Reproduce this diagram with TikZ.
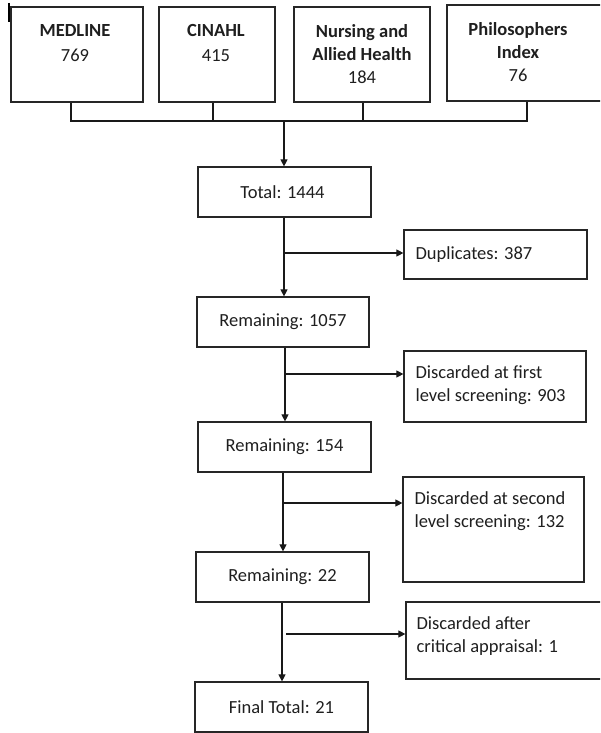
\documentclass[tikz,border=0pt]{standalone}
\usepackage{fontspec}
\setmainfont{Carlito}
\usetikzlibrary{fit,arrows.meta}
\begin{document}
\begin{tikzpicture}[x=1pt,y=-1pt,
  box/.style={draw=black!85, line width=1.2pt, inner sep=0pt, rectangle},
  lbl/.style={inner sep=0pt, font=\fontsize{18.5}{23}\selectfont, text=black!88},
  toplbl/.style={lbl, align=center, anchor=north, font=\fontsize{18.5}{24}\selectfont\bfseries},
  leftlbl/.style={lbl, align=left, anchor=north west},
  conn/.style={line width=1.1pt, draw=black!90},
  arr/.style={conn, -{Triangle[length=7pt,width=7pt]}}]
\useasboundingbox (0,0) rectangle (600,733);
\clip (0,0) rectangle (600,733);
\fill[white] (0,0) rectangle (600,733);
% small mark at top left
\draw[line width=2pt] (9,3) -- (9,22);
% source boxes
\node[box, fit={(11,7) (143,102)}] (medline) {};
\node[box, fit={(159,7) (275,102)}] (cinahl) {};
\node[box, fit={(294,7) (430,102)}] (nursing) {};
\node[box, fit={(447,5) (612,101)}] (philo) {};
\node[toplbl] (medlinet) at (75,24) {MEDLINE\\[1pt]\mdseries 769};
\node[toplbl] (cinahlt) at (216,24) {CINAHL\\[1pt]\mdseries 415};
\node[toplbl, font=\fontsize{18.5}{23}\selectfont\bfseries] (nursingt) at (362,24) {Nursing and\\Allied Health\\\mdseries 184};
\node[toplbl, font=\fontsize{18.5}{23}\selectfont\bfseries] (philot) at (518,22) {Philosophers\\Index\\\mdseries 76};
% bus
\coordinate (busL) at (71,121);
\coordinate (busC) at (213,121);
\coordinate (busN) at (363,121);
\coordinate (busR) at (527,121);
\coordinate (busM) at (284,121);
\draw[conn] (medline.south -| busL) -- (busL) -- (busR) -- (philo.south -| busR);
\draw[conn] (cinahl.south -| busC) -- (busC);
\draw[conn] (nursing.south -| busN) -- (busN);
% main column
\node[box, fit={(198,167) (371,217)}] (total) {};
\node[box, fit={(197,297) (369,347)}] (r1057) {};
\node[box, fit={(198,422) (371,472)}] (r154) {};
\node[box, fit={(196,552) (369,602)}] (r22) {};
\node[box, fit={(195,682) (368,732)}] (final) {};
\node[lbl] (totalt) at ([xshift=-2pt]total.center) {Total: 1444};
\node[lbl] (r1057t) at (r1057.center) {Remaining: 1057};
\node[lbl] (r154t) at (r154.center) {Remaining: 154};
\node[lbl] (r22t) at (r22.center) {Remaining: 22};
\node[lbl] (finalt) at (final.center) {Final Total: 21};
% side boxes
\node[box, fit={(404,230) (587,279)}] (dup) {};
\node[box, fit={(404,351) (586,422)}] (disc1) {};
\node[box, fit={(403,477) (584,582)}] (disc2) {};
\node[box, fit={(406,602) (612,679)}] (disc3) {};
\node[lbl, anchor=west] (dupt) at ([xshift=12pt]dup.west) {Duplicates: 387};
\node[leftlbl] (disc1t) at ([xshift=12pt,yshift=-15pt]disc1.north west) {Discarded at first\\level screening: 903};
\node[leftlbl] (disc2t) at ([xshift=12pt,yshift=-15pt]disc2.north west) {Discarded at second\\level screening: 132};
\node[leftlbl] (disc3t) at ([xshift=11pt,yshift=-15pt]disc3.north west) {Discarded after\\critical appraisal: 1};
% arrows
\draw[arr] (busM) -- (busM |- total.north);
\coordinate (b1) at (284,253);
\draw[arr] (b1 |- total.south) -- (b1 |- r1057.north);
\draw[arr] (b1) -- (b1 -| dup.west);
\coordinate (b2) at (285,374);
\draw[arr] (b2 |- r1057.south) -- (b2 |- r154.north);
\draw[arr] (b2) -- (b2 -| disc1.west);
\coordinate (b3) at (283,503);
\draw[arr] (b3 |- r154.south) -- (b3 |- r22.north);
\draw[arr] (b3) -- (b3 -| disc2.west);
\coordinate (b4) at (282,634);
\coordinate (b4s) at (286,634);
\draw[arr] (b4 |- r22.south) -- (b4 |- final.north);
\draw[arr] (b4s) -- (b4s -| disc3.west);
\end{tikzpicture}
\end{document}
